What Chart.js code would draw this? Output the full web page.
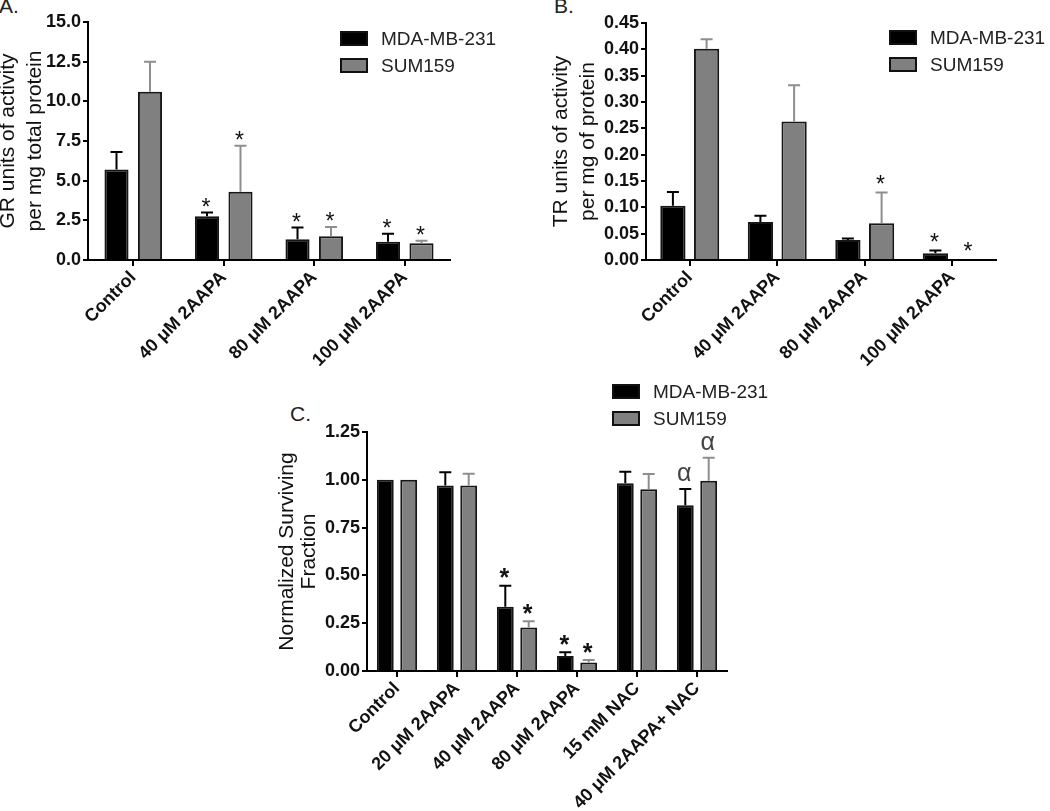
<!DOCTYPE html>
<html lang="en">
<head>
  <meta charset="UTF-8" />
  <title>GR / TR activity and surviving fraction after 2AAPA</title>
  <script src="https://cdn.jsdelivr.net/npm/chart.js"></script>
  <style>
    body {
      margin: 0;
      background: #fff;
      font-family: "Liberation Sans", Arial, sans-serif;
    }
    .page {
      position: relative;
      width: 1050px;
      height: 811px;
      overflow: hidden;
    }
    .panel {
      position: absolute;
    }
    .tag {
      position: absolute;
      font-size: 21px;
      line-height: 1;
      color: #222;
    }
    .legend {
      position: absolute;
      font-size: 19px;
      color: #222;
    }
    .legend .row {
      position: relative;
      height: 27px;
      line-height: 27px;
      padding-left: 41px;
      white-space: nowrap;
    }
    .legend .box {
      position: absolute;
      left: 0;
      top: 6px;
      width: 28px;
      height: 15px;
      box-sizing: border-box;
      border: 2px solid #111;
    }
  </style>
</head>
<body>
<div class="page">
  <div class="tag" style="left:-1px; top:-5px;">A.</div>
  <div class="tag" style="left:554px; top:-5px;">B.</div>
  <div class="tag" style="left:290px; top:403px;">C.</div>

  <canvas class="panel" id="chartA" width="485" height="380" style="left:-5px; top:0;"></canvas>
  <canvas class="panel" id="chartB" width="530" height="380" style="left:520px; top:0;"></canvas>
  <canvas class="panel" id="chartC" width="500" height="431" style="left:250px; top:380px;"></canvas>

  <div class="legend" id="legendA" style="left:340px; top:25px;"></div>
  <div class="legend" id="legendB" style="left:889px; top:24px;"></div>
  <div class="legend" id="legendC" style="left:612px; top:378px;"></div>
</div>

<script>
  // categories
  const groupsAB = ['Control', '40 μM 2AAPA', '80 μM 2AAPA', '100 μM 2AAPA'];
  const groupsC = ['Control', '20 μM 2AAPA', '40 μM 2AAPA', '80 μM 2AAPA', '15 mM NAC', '40 μM 2AAPA+ NAC'];
  const seriesNames = ['MDA-MB-231', 'SUM159'];

  // A - GR activity
  const grMda = [5.7, 2.75, 1.3, 1.15];
  const grMdaErr = [1.1, 0.25, 0.75, 0.5];
  const grSum = [10.6, 4.3, 1.5, 1.05];
  const grSumErr = [1.9, 2.9, 0.58, 0.17];
  const grMdaMarks = ['', '*', '*', '*'];
  const grSumMarks = ['', '*', '*', '*'];
  const grTicks = [0, 2.5, 5, 7.5, 10, 12.5, 15];

  // B - TR activity
  const trMda = [0.103, 0.072, 0.038, 0.013];
  const trMdaErr = [0.026, 0.012, 0.003, 0.005];
  const trSum = [0.401, 0.263, 0.070, 0];
  const trSumErr = [0.018, 0.069, 0.058, 0];
  const trMdaMarks = ['', '', '', '*'];
  const trSumMarks = ['', '', '*', '*'];
  const trTicks = [0, 0.05, 0.10, 0.15, 0.20, 0.25, 0.30, 0.35, 0.40, 0.45];

  // C - surviving fraction
  const sfMda = [1.0, 0.97, 0.336, 0.078, 0.982, 0.867];
  const sfMdaErr = [0, 0.07, 0.11, 0.02, 0.06, 0.085];
  const sfSum = [1.0, 0.97, 0.228, 0.045, 0.95, 0.995];
  const sfSumErr = [0, 0.062, 0.032, 0.012, 0.08, 0.12];
  const sfMdaMarks = ['', '', '*', '*', '', 'α'];
  const sfSumMarks = ['', '', '*', '*', '', 'α'];
  const sfTicks = [0, 0.25, 0.5, 0.75, 1.0, 1.25];

  const colors = { mda: '#000000', sum: '#808080', sumErr: '#8e8e8e', edge: '#161616' };

  Chart.defaults.font.family = '"Liberation Sans", Arial, sans-serif';
  Chart.defaults.color = '#111';

  // error bars (upper only) + significance marks
  const errorBars = {
    id: 'errorBars',
    afterDatasetsDraw(chart, args, opts) {
      const ctx = chart.ctx;
      const y = chart.scales.y;
      chart.data.datasets.forEach((ds, i) => {
        const meta = chart.getDatasetMeta(i);
        meta.data.forEach((bar, j) => {
          const err = ds.errors[j];
          const yTop = y.getPixelForValue(ds.data[j] + err);
          if (err > 0) {
            ctx.save();
            ctx.strokeStyle = ds.errorColor;
            ctx.lineWidth = 2;
            ctx.beginPath();
            ctx.moveTo(bar.x, bar.y);
            ctx.lineTo(bar.x, yTop);
            ctx.moveTo(bar.x - 6, yTop);
            ctx.lineTo(bar.x + 6, yTop);
            ctx.stroke();
            ctx.restore();
          }
          const mark = ds.marks[j];
          if (mark) {
            const isStar = mark === '*';
            const size = isStar ? opts.starSize : opts.alphaSize;
            ctx.save();
            ctx.font = (isStar ? opts.starWeight : 'normal') + ' ' + size + 'px "Liberation Sans", Arial, sans-serif';
            ctx.fillStyle = isStar ? '#111' : '#444';
            ctx.textAlign = 'center';
            ctx.textBaseline = 'alphabetic';
            const k = isStar ? 0.585 : 0.26;
            ctx.fillText(mark, bar.x - 1, yTop - opts.gap + k * size);
            ctx.restore();
          }
        });
      });
    }
  };

  function makeChart(id, cfg) {
    new Chart(document.getElementById(id), {
      type: 'bar',
      data: {
        labels: cfg.labels,
        datasets: [
          {
            label: seriesNames[0], data: cfg.mda, errors: cfg.mdaErr, marks: cfg.mdaMarks,
            backgroundColor: colors.mda, borderColor: colors.edge, borderWidth: 2,
            errorColor: colors.mda, categoryPercentage: cfg.catPct, barPercentage: cfg.barPct
          },
          {
            label: seriesNames[1], data: cfg.sum, errors: cfg.sumErr, marks: cfg.sumMarks,
            backgroundColor: colors.sum, borderColor: colors.edge, borderWidth: 2,
            errorColor: colors.sumErr, categoryPercentage: cfg.catPct, barPercentage: cfg.barPct
          }
        ]
      },
      options: {
        responsive: false,
        animation: false,
        layout: { autoPadding: false, padding: { top: cfg.padTop, right: cfg.padRight, left: 0, bottom: 0 } },
        plugins: {
          legend: { display: false },
          tooltip: { enabled: false },
          errorBars: cfg.markOpts
        },
        scales: {
          x: {
            border: { display: true, color: '#000', width: 2 },
            grid: { display: true, offset: false, drawOnChartArea: false, drawTicks: true, tickLength: 6, color: '#000', lineWidth: 2 },
            ticks: {
              autoSkip: false, minRotation: 45, maxRotation: 45, padding: 1,
              color: '#111', font: { size: 18, weight: 'bold' }
            },
            afterFit: s => { s.height = cfg.xHeight; }
          },
          y: {
            min: cfg.ticks[0],
            max: cfg.ticks[cfg.ticks.length - 1],
            border: { display: true, color: '#000', width: 2 },
            grid: { display: true, drawOnChartArea: false, drawTicks: true, tickLength: 5, color: '#000', lineWidth: 2 },
            afterBuildTicks: s => { s.ticks = cfg.ticks.map(v => ({ value: v })); },
            ticks: {
              padding: 2, color: '#111', font: { size: 18, weight: 'bold' },
              callback: v => Number(v).toFixed(cfg.decimals)
            },
            title: {
              display: true, text: cfg.title, color: '#111',
              font: { size: 21, lineHeight: cfg.titleLine },
              padding: { top: cfg.titlePad, bottom: 0 }
            },
            afterFit: s => { s.width = cfg.yWidth; }
          }
        }
      },
      plugins: [errorBars]
    });
  }

  makeChart('chartA', {
    labels: groupsAB, mda: grMda, mdaErr: grMdaErr, sum: grSum, sumErr: grSumErr,
    mdaMarks: grMdaMarks, sumMarks: grSumMarks, ticks: grTicks, decimals: 1,
    title: ['GR units of activity', 'per mg total protein'], titleLine: 1.28, titlePad: 0,
    yWidth: 93, xHeight: 120, padTop: 22, padRight: 30, catPct: 0.74, barPct: 0.72,
    markOpts: { starSize: 23, alphaSize: 24, starWeight: 'normal', gap: 11 }
  });

  makeChart('chartB', {
    labels: groupsAB, mda: trMda, mdaErr: trMdaErr, sum: trSum, sumErr: trSumErr,
    mdaMarks: trMdaMarks, sumMarks: trSumMarks, ticks: trTicks, decimals: 2,
    title: ['TR units of activity', 'per mg of protein'], titleLine: 1.28, titlePad: 28,
    yWidth: 126, xHeight: 120, padTop: 23, padRight: 54, catPct: 0.77, barPct: 0.75,
    markOpts: { starSize: 23, alphaSize: 24, starWeight: 'normal', gap: 14 }
  });

  makeChart('chartC', {
    labels: groupsC, mda: sfMda, mdaErr: sfMdaErr, sum: sfSum, sumErr: sfSumErr,
    mdaMarks: sfMdaMarks, sumMarks: sfSumMarks, ticks: sfTicks, decimals: 2,
    title: ['Normalized Surviving', 'Fraction'], titleLine: 1.05, titlePad: 26,
    yWidth: 117, xHeight: 140, padTop: 52, padRight: 23, catPct: 0.78, barPct: 0.72,
    markOpts: { starSize: 25, alphaSize: 25, starWeight: 'bold', gap: 14 }
  });

  // legends
  function fillLegend(id) {
    const el = document.getElementById(id);
    const fills = [colors.mda, colors.sum];
    seriesNames.forEach((name, i) => {
      const row = document.createElement('div');
      row.className = 'row';
      const box = document.createElement('span');
      box.className = 'box';
      box.style.background = fills[i];
      row.appendChild(box);
      row.appendChild(document.createTextNode(name));
      el.appendChild(row);
    });
  }
  fillLegend('legendA');
  fillLegend('legendB');
  fillLegend('legendC');
</script>
</body>
</html>
